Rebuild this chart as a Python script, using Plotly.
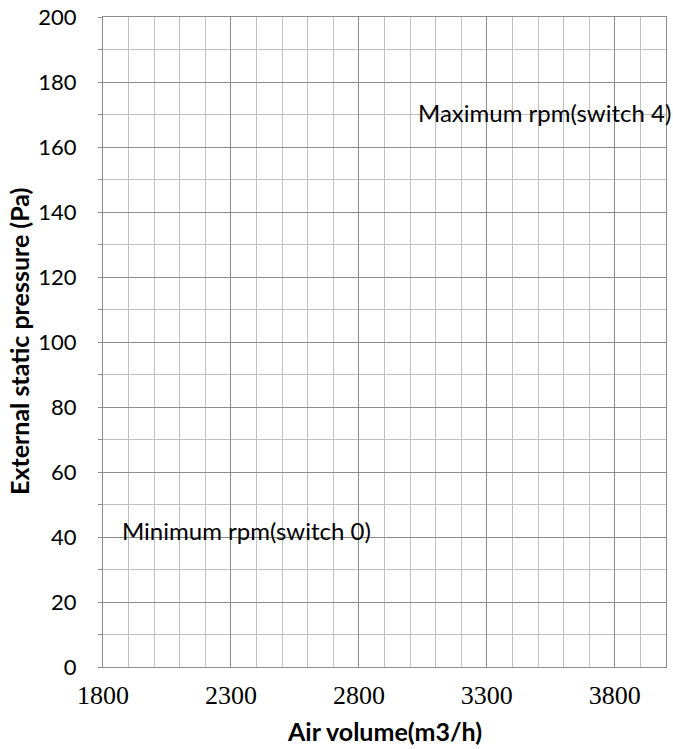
import plotly.graph_objects as go

# Axis extents and tick settings (data units)
x_range = [1800, 4000]
x_major_ticks = [1800, 2300, 2800, 3300, 3800]
y_range = [0, 200]
y_major_ticks = [0, 20, 40, 60, 80, 100, 120, 140, 160, 180, 200]

# Curve labels placed in the chart (data coordinates)
label_texts = ["Maximum rpm(switch 4)", "Minimum rpm(switch 0)"]
label_x = [3023, 1866]
label_y = [170.5, 42]

x_title = "Air volume(m3/h)"
y_title = "External static pressure (Pa)"

W, H = 673, 749
L, R, T, B = 103, 7, 17, 82
PW, PH = W - L - R, H - T - B

fig = go.Figure()
fig.add_trace(go.Scatter(x=[x_range[0]], y=[y_range[0]], mode="markers",
                         marker=dict(opacity=0), showlegend=False, hoverinfo="skip"))

for t, x, y in zip(label_texts, label_x, label_y):
    fig.add_annotation(x=x, y=y, text=t, xref="x", yref="y", showarrow=False,
                       xanchor="left", yanchor="middle",
                       font=dict(family="Lato", size=24, color="#000000"))

fig.add_annotation(x=0.5, y=1 - (731 - T) / PH, xref="paper", yref="paper",
                   xanchor="center", yanchor="middle",
                   text="<b>" + x_title + "</b>", showarrow=False,
                   font=dict(family="Lato", size=25, color="#000000"))
fig.add_annotation(x=(19 - L) / PW, y=0.5, xref="paper", yref="paper",
                   xanchor="center", yanchor="middle",
                   text="<b>" + y_title + "</b>", textangle=-90, showarrow=False,
                   font=dict(family="Lato", size=25, color="#000000"))

fig.update_layout(
    width=W, height=H,
    margin=dict(l=L, r=R, t=T, b=B, autoexpand=False),
    plot_bgcolor="white", paper_bgcolor="white",
    showlegend=False,
    xaxis=dict(range=x_range, tickvals=x_major_ticks, ticktext=[str(v) for v in x_major_ticks],
               automargin=False,
               showgrid=True, gridcolor="#8c8c8c", gridwidth=1,
               minor=dict(dtick=100, tick0=1800, showgrid=True, gridcolor="#c0c0c0", gridwidth=1),
               showline=True, linecolor="#8c8c8c", linewidth=1, mirror=True,
               zeroline=False, ticks="", ticklabelstandoff=5,
               tickfont=dict(family="Liberation Serif", size=26, color="#000000")),
    yaxis=dict(range=y_range, tickvals=y_major_ticks, automargin=False,
               showgrid=True, gridcolor="#8c8c8c", gridwidth=1,
               minor=dict(dtick=10, tick0=0, showgrid=True, gridcolor="#c0c0c0", gridwidth=1,
                          ticks="outside", ticklen=4, tickcolor="#8c8c8c"),
               showline=True, linecolor="#8c8c8c", linewidth=1, mirror=True,
               zeroline=False, ticks="outside", ticklen=4, tickcolor="#8c8c8c",
               ticklabelstandoff=17,
               tickfont=dict(family="Lato", size=22, color="#000000")),
)

fig.write_html("out.html", config={"displayModeBar": False},
               post_script="document.body.style.margin='0';document.body.style.overflow='hidden';")
